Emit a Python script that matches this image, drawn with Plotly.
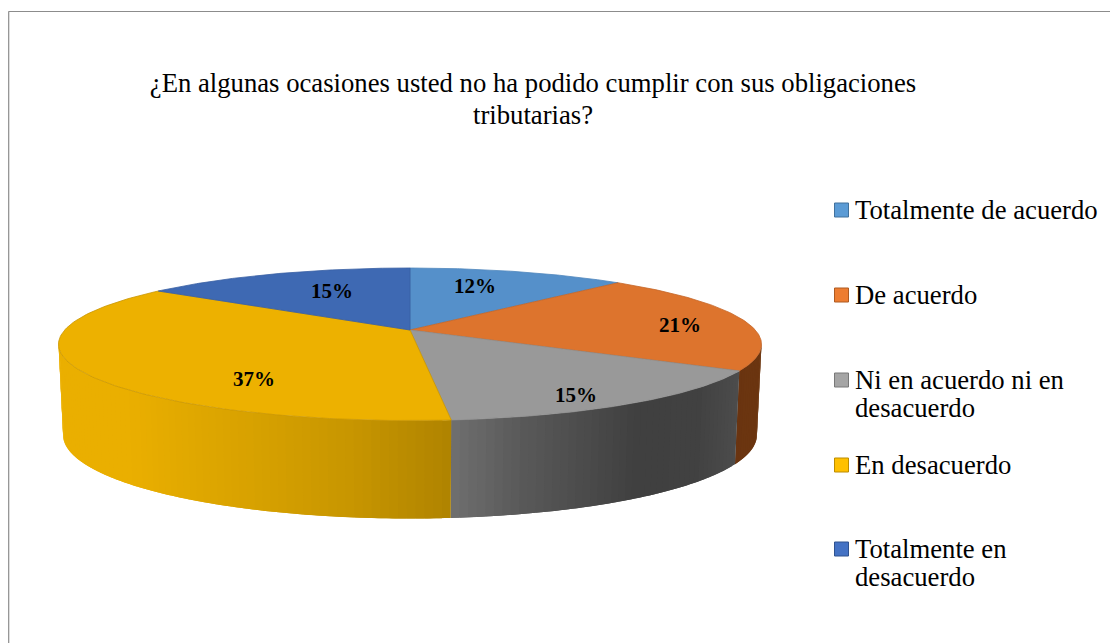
import numpy as np
import plotly.graph_objects as go

# ---- data ----
categories = ["Totalmente de acuerdo", "De acuerdo", "Ni en acuerdo ni en<br>desacuerdo",
              "En desacuerdo", "Totalmente en<br>desacuerdo"]
values = [12.0, 21.4, 15.05, 36.55, 15.0]
top_colors = ["#5590ca", "#dd742d", "#999999", "#edb100", "#3e69b3"]
edge_colors = ["#4f86bd", "#c5672a", "#8e8e8e", "#c99600", "#385fa3"]
legend_colors = ["#5b9bd5", "#ed7d31", "#a5a5a5", "#ffc000", "#4472c4"]
legend_borders = ["#41719c", "#ae5a21", "#787878", "#bc8c00", "#2f528f"]
title_line = "¿En algunas ocasiones usted no ha podido cumplir con sus obligaciones"
title_line2 = "tributarias?"

# ---- geometry of the tilted pie (pixels on the hidden axes; the page has an 8px body margin) ----
FONT = "Liberation Serif"
PAGE_MARGIN = 8
CX, CY = 410.0, 330.0
K = 0.187
A, B = 345.3, 73.6
A2, B2 = A * 0.987, B * 1.096
DEPTH = 89.3


def top_pt(theta):
    u, v = np.sin(theta), np.cos(theta)
    w = 1 + K * v
    return CX + A * u / w, CY - B * v / w


def bot_pt(theta):
    u, v = np.sin(theta), np.cos(theta)
    w = 1 + K * v
    return CX + A2 * u / w, CY + DEPTH - B2 * v / w


def wall_shade(i, x):
    """Lighting of the side wall, as a function of screen x, per slice."""
    if i == 1:
        xs, r, g, b = [730, 760], [106, 108], [52, 54], [16, 16]
    elif i == 2:
        xs = [451, 520, 640, 700, 737]
        r = g = b = [112, 90, 64, 66, 76]
    else:
        xs = [60, 130, 250, 350, 451]
        r, g, b = [235, 234, 216, 200, 176], [176, 175, 162, 150, 132], [0, 0, 0, 0, 0]
    return "rgb(%d,%d,%d)" % (np.interp(x, xs, r), np.interp(x, xs, g), np.interp(x, xs, b))


fracs = np.array(values) / sum(values)
edges = np.concatenate([[0], np.cumsum(fracs)]) * 2 * np.pi

fig = go.Figure()

# side walls: overlapping strips painted in order, front half only
W0, W1 = np.radians(99), np.radians(261)
for i in range(len(values)):
    lo, hi = max(edges[i], W0), min(edges[i + 1], W1)
    if hi <= lo:
        continue
    n = max(2, int((hi - lo) / np.radians(1.2)))
    ts = np.linspace(lo, hi, n + 1)
    step = ts[1] - ts[0]
    for a, b in zip(ts[:-1], ts[1:]):
        tt = np.linspace(a, min(b + step, hi), 4)
        xt, yt = top_pt(tt)
        xb, yb = bot_pt(tt[::-1])
        mid_x = float(top_pt(0.5 * (a + b))[0])
        col = wall_shade(i, mid_x)
        fig.add_trace(go.Scatter(
            x=np.concatenate([xt, xb]), y=np.concatenate([yt, yb]),
            mode="none", fill="toself", fillcolor=col,
            hoverinfo="skip", showlegend=False))

# top faces
for i, name in enumerate(categories):
    tt = np.linspace(edges[i], edges[i + 1], 120)
    xt, yt = top_pt(tt)
    fig.add_trace(go.Scatter(
        x=np.concatenate([[CX], xt, [CX]]), y=np.concatenate([[CY], yt, [CY]]),
        mode="lines", fill="toself", fillcolor=top_colors[i],
        line=dict(color=edge_colors[i], width=0.8),
        name=name.replace("<br>", " "), hoverinfo="name", showlegend=False))

# legend swatches
legend_y = [210, 295, 380, 465, 549]
for i in range(len(categories)):
    fig.add_trace(go.Scatter(
        x=[841.5], y=[legend_y[i]], mode="markers",
        marker=dict(symbol="square", size=14, color=legend_colors[i],
                    line=dict(color=legend_borders[i], width=1)),
        hoverinfo="skip", showlegend=False))

ann = []
# data labels
label_pos = [(475, 286), (680, 325), (576, 395), (254, 379), (332, 291)]
for (lx, ly), v in zip(label_pos, values):
    ann.append(dict(x=lx, y=ly, xref="x", yref="y", text="<b>%d%%</b>" % round(v), showarrow=False,
                    xanchor="center", yanchor="middle",
                    font=dict(family=FONT, size=21, color="black")))
# legend text, one annotation per line for exact line pitch
for name, y0 in zip(categories, legend_y):
    for j, line in enumerate(name.split("<br>")):
        ann.append(dict(x=853, y=y0 + 28 * j, xref="x", yref="y", text=line, showarrow=False,
                        xanchor="left", yanchor="middle",
                        font=dict(family=FONT, size=26.7, color="black")))
# second title line (tighter pitch than a <br> gives)
ann.append(dict(x=533, y=115, xref="x", yref="y", text=title_line2, showarrow=False,
                xanchor="center", yanchor="middle",
                font=dict(family=FONT, size=26.7, color="black")))

W, H = 1118 - PAGE_MARGIN, 643 - PAGE_MARGIN
fig.update_layout(
    width=W, height=H, autosize=False,
    margin=dict(l=0, r=0, t=0, b=0),
    paper_bgcolor="white", plot_bgcolor="white",
    showlegend=False,
    title=dict(text=title_line, x=(533 - PAGE_MARGIN) / W, xanchor="center",
               y=1 - (83 - PAGE_MARGIN) / H, yanchor="middle",
               font=dict(family=FONT, size=26.7, color="black")),
    xaxis=dict(range=[PAGE_MARGIN, 1118], visible=False, fixedrange=True),
    yaxis=dict(range=[643, PAGE_MARGIN], visible=False, fixedrange=True),
    annotations=ann,
    shapes=[
        dict(type="line", xref="x", yref="y", x0=8.7, x1=8.7, y0=11.5, y1=643,
             line=dict(color="#8c8c8c", width=1.2)),
        dict(type="line", xref="x", yref="y", x0=8.5, x1=1118, y0=11.5, y1=11.5,
             line=dict(color="#8c8c8c", width=1.2)),
    ],
)
fig.write_html("out.html")
